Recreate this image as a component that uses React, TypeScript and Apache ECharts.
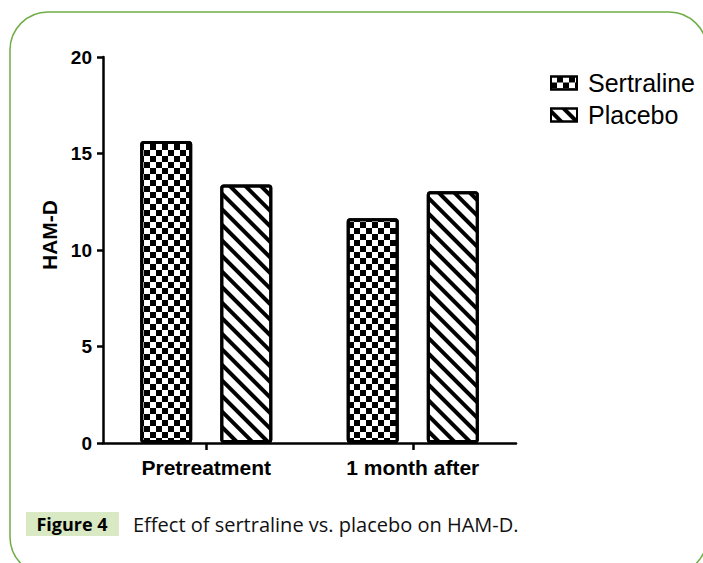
import React, { useEffect, useRef } from "react";
import * as echarts from "echarts";

const categories = ["Pretreatment", "1 month after"];
const seriesNames = ["Sertraline", "Placebo"];
const sertralineValues = [15.65, 11.65];
const placeboValues = [13.4, 13.05];
const yTicks = { min: 0, max: 20, interval: 5 };
const captionLabel = "Figure 4";
const captionText = "Effect of sertraline vs. placebo on HAM-D.";
const yAxisName = "HAM-D";

const SANS = "'Liberation Sans', Arial, sans-serif";
const CAPTION = "'Open Sans', 'Noto Sans', sans-serif";

export default function App() {
  const ref = useRef<HTMLDivElement>(null);
  useEffect(() => {
    if (!ref.current) return;
    const chart = echarts.init(ref.current, undefined, { renderer: "svg" });
    const checker = {
      symbol: "rect",
      symbolSize: 1,
      color: "#000",
      dashArrayX: [[5.5, 5.5], [0, 5.5, 5.5, 0]],
      dashArrayY: [5.5, 0],
      rotation: 0,
    };
    const stripes = {
      symbol: "rect",
      symbolSize: 1,
      color: "#000",
      dashArrayX: [1, 0],
      dashArrayY: [3.5, 7],
      rotation: Math.PI / 4,
    };
    chart.setOption({
      animation: false,
      backgroundColor: "#fff",
      grid: { left: 103, right: 187, top: 57, bottom: 120, containLabel: false },
      legend: {
        orient: "vertical",
        left: 545,
        top: 62,
        itemWidth: 26,
        itemHeight: 13,
        itemGap: 0,
        icon: "rect",
        textStyle: { fontFamily: SANS, fontSize: 25, lineHeight: 32, color: "#000", padding: [0, 0, 0, 6] },
        data: seriesNames,
      },
      xAxis: {
        type: "category",
        data: categories,
        axisLine: { lineStyle: { color: "#000", width: 2.5 } },
        axisTick: { show: true, alignWithLabel: true, length: 7, lineStyle: { color: "#000", width: 2.5 } },
        axisLabel: { fontFamily: SANS, fontWeight: "bold", fontSize: 21, color: "#000", margin: 14 },
      },
      yAxis: {
        type: "value",
        min: yTicks.min,
        max: yTicks.max,
        interval: yTicks.interval,
        name: yAxisName,
        nameLocation: "middle",
        nameGap: 40,
        nameRotate: 90,
        nameTextStyle: {
          fontFamily: SANS,
          fontWeight: "bold",
          fontSize: 21,
          color: "#000",
          padding: [0, 0, 0, 30],
        },
        splitLine: { show: false },
        axisLine: { show: true, lineStyle: { color: "#000", width: 2.5 } },
        axisTick: { show: true, length: 6, lineStyle: { color: "#000", width: 2.5 } },
        axisLabel: { fontFamily: SANS, fontWeight: "bold", fontSize: 19, color: "#000", margin: 11 },
      },
      series: [
        {
          name: seriesNames[0],
          type: "bar",
          data: sertralineValues,
          barWidth: 52,
          barGap: "54%",
          itemStyle: { color: "#fff", borderColor: "#000", borderWidth: 3, borderRadius: 2, decal: checker },
        },
        {
          name: seriesNames[1],
          type: "bar",
          data: placeboValues,
          barWidth: 52,
          barGap: "54%",
          itemStyle: { color: "#fff", borderColor: "#000", borderWidth: 3, borderRadius: 2, decal: stripes },
        },
      ],
      graphic: [
        {
          type: "rect",
          shape: { x: 10, y: 12, width: 697, height: 563, r: 38 },
          style: { fill: "none", stroke: "#70ad47", lineWidth: 1.5 },
          silent: true,
        },
        {
          type: "rect",
          shape: { x: 26, y: 512, width: 93, height: 24 },
          style: { fill: "#d8e9c3" },
          silent: true,
        },
        {
          type: "text",
          x: 72,
          y: 524,
          style: {
            text: captionLabel,
            fontFamily: CAPTION,
            fontWeight: "bold",
            fontSize: 18,
            fill: "#000",
            align: "center",
            verticalAlign: "middle",
          },
        },
        {
          type: "text",
          x: 133,
          y: 524,
          style: {
            text: captionText,
            fontFamily: CAPTION,
            fontSize: 20,
            fill: "#111",
            align: "left",
            verticalAlign: "middle",
          },
        },
      ],
    });
    return () => chart.dispose();
  }, []);
  return <div ref={ref} style={{ width: 703, height: 563, position: "absolute", left: 0, top: 0 }} />;
}
